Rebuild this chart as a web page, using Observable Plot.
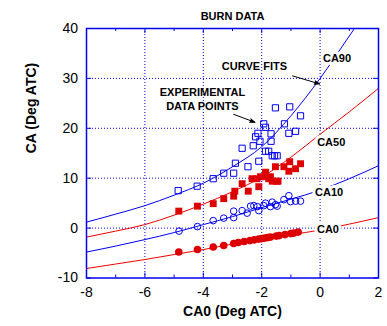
<!DOCTYPE html>
<html><head><meta charset="utf-8">
<script src="https://cdn.jsdelivr.net/npm/d3@7"></script>
<script src="https://cdn.jsdelivr.net/npm/@observablehq/plot@0.6"></script>
<style>
body{margin:0;background:#fff}
svg{display:block}
</style>
</head><body><div id="chart"></div>
<script>
// ---- data ----
const title = "BURN DATA";
const xLabel = "CA0 (Deg ATC)";
const yLabel = "CA (Deg ATC)";
const xTicks = [-8, -6, -4, -2, 0, 2];
const xMinor = [-7, -5, -3, -1, 1];
const yTicks = [-10, 0, 10, 20, 30, 40];

// curve fits
const fitX    = [-8, -7, -6, -5, -4, -3, -2, -1, 0, 1, 2];
const fitCA90 = [1.2, 2.8, 4.5, 6.6, 9.0, 12.3, 16.3, 22.5, 30.0, 38.5, 47.0];
const fitCA50 = [-1.8, -0.6, 0.7, 2.6, 4.8, 7.3, 10.2, 14.2, 18.8, 23.3, 28.0];
const fitCA10 = [-4.8, -3.6, -2.3, -0.9, 0.7, 2.3, 4.1, 5.8, 7.6, 9.9, 12.5];
const fitCA0  = [-8.1, -7.2, -6.3, -5.3, -4.3, -3.2, -2.1, -1.3, -0.4, 0.8, 2.1];

// experimental data points
const ca0X = [-4.84, -4.2, -3.66, -3.3, -2.96, -2.8, -2.6, -2.4, -2.25, -2.1, -2.0, -1.9, -1.8, -1.7, -1.5, -1.4, -1.2, -1.0, -0.9, -0.75];
const ca0Y = [-4.8, -4.3, -3.8, -3.5, -3.1, -2.9, -2.7, -2.5, -2.35, -2.2, -2.1, -2.0, -1.9, -1.8, -1.6, -1.5, -1.3, -1.1, -1.0, -0.8];

const ca10X = [-4.83, -4.2, -3.66, -3.3, -2.96, -2.96, -2.67, -2.5, -2.38, -2.27, -2.15, -2.1, -1.93, -1.87, -1.7, -1.64, -1.53, -1.47, -1.24, -1.07, -1.01, -0.84, -0.67];
const ca10Y = [-0.6, 0.3, 1.5, 2.0, 2.1, 3.4, 3.5, 3.0, 4.4, 4.5, 4.3, 3.5, 4.5, 5.0, 4.3, 5.2, 4.7, 4.4, 5.7, 6.5, 5.3, 5.4, 5.4];

const ca50X = [-4.84, -4.2, -3.66, -3.3, -2.96, -2.92, -2.67, -2.46, -2.33, -2.16, -2.1, -2.04, -1.87, -1.87, -1.76, -1.7, -1.64, -1.53, -1.49, -1.44, -1.24, -1.07, -1.04, -0.84, -0.67];
const ca50Y = [3.4, 4.4, 4.9, 5.9, 6.4, 7.4, 8.9, 7.4, 9.9, 9.9, 8.3, 10.3, 11.2, 10.3, 9.9, 10.3, 9.4, 12.3, 9.4, 9.4, 12.3, 11.4, 13.3, 11.9, 12.9];

const ca90X = [-4.86, -4.21, -3.66, -3.3, -2.96, -2.9, -2.67, -2.47, -2.29, -2.21, -2.13, -2.1, -2.06, -1.93, -1.87, -1.87, -1.76, -1.68, -1.68, -1.64, -1.56, -1.47, -1.53, -1.22, -1.07, -1.04, -0.84, -0.67];
const ca90Y = [7.5, 8.4, 9.9, 11.0, 11.0, 13.0, 16.0, 12.3, 16.5, 18.3, 19.0, 13.4, 17.4, 20.9, 20.2, 15.4, 15.4, 18.9, 17.4, 14.5, 14.5, 14.5, 24.1, 20.9, 19.0, 24.3, 19.4, 22.5];

// curve labels
const curveNames = ["CA90", "CA50", "CA10", "CA0"];
const curveLabelX = [0.58, 0.38, 0.31, 0.27];
const curveLabelY = [34.0, 17.2, 7.2, -0.3];

// annotations
const noteText = ["CURVE FITS", "EXPERIMENTAL", "DATA POINTS"];
const noteX = [-2.25, -4.03, -4.03];
const noteY = [32.3, 27.1, 24.3];
const arrowX1 = [-0.94, -2.96];
const arrowY1 = [30.5, 22.8];
const arrowX2 = [-0.02, -2.23];
const arrowY2 = [28.9, 21.2];

// ---- build ----
const BLUE = "#0000ee", RED = "#ee0000", MRED = "#dd0000";
const FONT = "'Liberation Sans', Arial, Helvetica, sans-serif";
const W = 387, H = 326, mT = 28, mB = 48.5, mL = 86, mR = 9;
const frameH = H - mT - mB, frameW = W - mL - mR;

const pts = (xs, ys) => xs.map((x, i) => ({x, y: ys[i]}));
const fits = [
  {v: fitCA90, c: BLUE}, {v: fitCA50, c: RED}, {v: fitCA10, c: BLUE}, {v: fitCA0, c: RED}
];
const labels = curveNames.map((t, i) => ({t, x: curveLabelX[i], y: curveLabelY[i]}));
const notes = noteText.map((t, i) => ({t, x: noteX[i], y: noteY[i]}));
const arrows = arrowX1.map((x1, i) => ({x1, y1: arrowY1[i], x2: arrowX2[i], y2: arrowY2[i]}));
const fmt = d => String(d);

const chart = Plot.plot({
  width: W, height: H,
  marginTop: mT, marginBottom: mB, marginLeft: mL, marginRight: mR,
  style: {fontFamily: FONT, fontSize: "14px", color: "black", background: "white"},
  x: {domain: [-8, 2], ticks: xTicks, tickFormat: fmt, tickSize: 0, tickPadding: 9, label: null},
  y: {domain: [-10, 40], ticks: yTicks, tickFormat: fmt, tickSize: 0, tickPadding: 8.5, label: null},
  marks: [
    // dotted grid
    Plot.ruleX(xTicks.slice(1, -1), {x: d => d, stroke: BLUE, strokeWidth: 1, strokeDasharray: "1,2"}),
    Plot.ruleY(yTicks.slice(1, -1), {y: d => d, stroke: BLUE, strokeWidth: 1, strokeDasharray: "1,2"}),
    // inward ticks
    Plot.ruleX(xMinor, {x: d => d, stroke: BLUE, insetTop: frameH - 3}),
    Plot.ruleX(xMinor, {x: d => d, stroke: BLUE, insetBottom: frameH - 3}),
    Plot.ruleX(xTicks, {x: d => d, stroke: BLUE, insetTop: frameH - 5}),
    Plot.ruleX(xTicks, {x: d => d, stroke: BLUE, insetBottom: frameH - 5}),
    Plot.ruleY(yTicks, {y: d => d, stroke: BLUE, insetRight: frameW - 5}),
    Plot.ruleY(yTicks, {y: d => d, stroke: BLUE, insetLeft: frameW - 5}),
    // curve fits
    ...fits.map(f => Plot.line(pts(fitX, f.v), {x: "x", y: "y", stroke: f.c, strokeWidth: 1, curve: "monotone-x", clip: true})),
    // experimental points
    Plot.dot(pts(ca0X, ca0Y), {x: "x", y: "y", r: 3.8, fill: MRED, stroke: "none"}),
    Plot.dot(pts(ca10X, ca10Y), {x: "x", y: "y", r: 3.3, fill: "none", stroke: BLUE, strokeWidth: 1}),
    Plot.dot(pts(ca50X, ca50Y), {x: "x", y: "y", r: 3.9, symbol: "square", fill: MRED, stroke: "none"}),
    Plot.dot(pts(ca90X, ca90Y), {x: "x", y: "y", r: 3.5, symbol: "square", fill: "none", stroke: BLUE, strokeWidth: 1}),
    // curve labels with white halo
    Plot.text(labels, {x: "x", y: "y", text: "t", fontSize: 11, fontWeight: "bold", fill: "black", stroke: "white", strokeWidth: 6}),
    // annotations
    Plot.text(notes, {x: "x", y: "y", text: "t", fontSize: 11, fontWeight: "bold", fill: "black"}),
    Plot.arrow(arrows, {x1: "x1", y1: "y1", x2: "x2", y2: "y2", stroke: "black", fill: "black", strokeWidth: 1, headLength: 8, headAngle: 40}),
    // frame
    Plot.frame({stroke: BLUE, strokeWidth: 1.5}),
    // title & axis labels
    Plot.text([title], {frameAnchor: "top", dy: -16.5, fontSize: 11, fontWeight: "bold", fill: "black"}),
    Plot.text([xLabel], {frameAnchor: "bottom", dy: 37.5, fontSize: 14, fontWeight: "bold", fill: "black"}),
    Plot.text([yLabel], {frameAnchor: "left", dx: -55, rotate: -90, fontSize: 14, fontWeight: "bold", fill: "black"})
  ]
});
document.getElementById("chart").appendChild(chart);
</script>
</body></html>
